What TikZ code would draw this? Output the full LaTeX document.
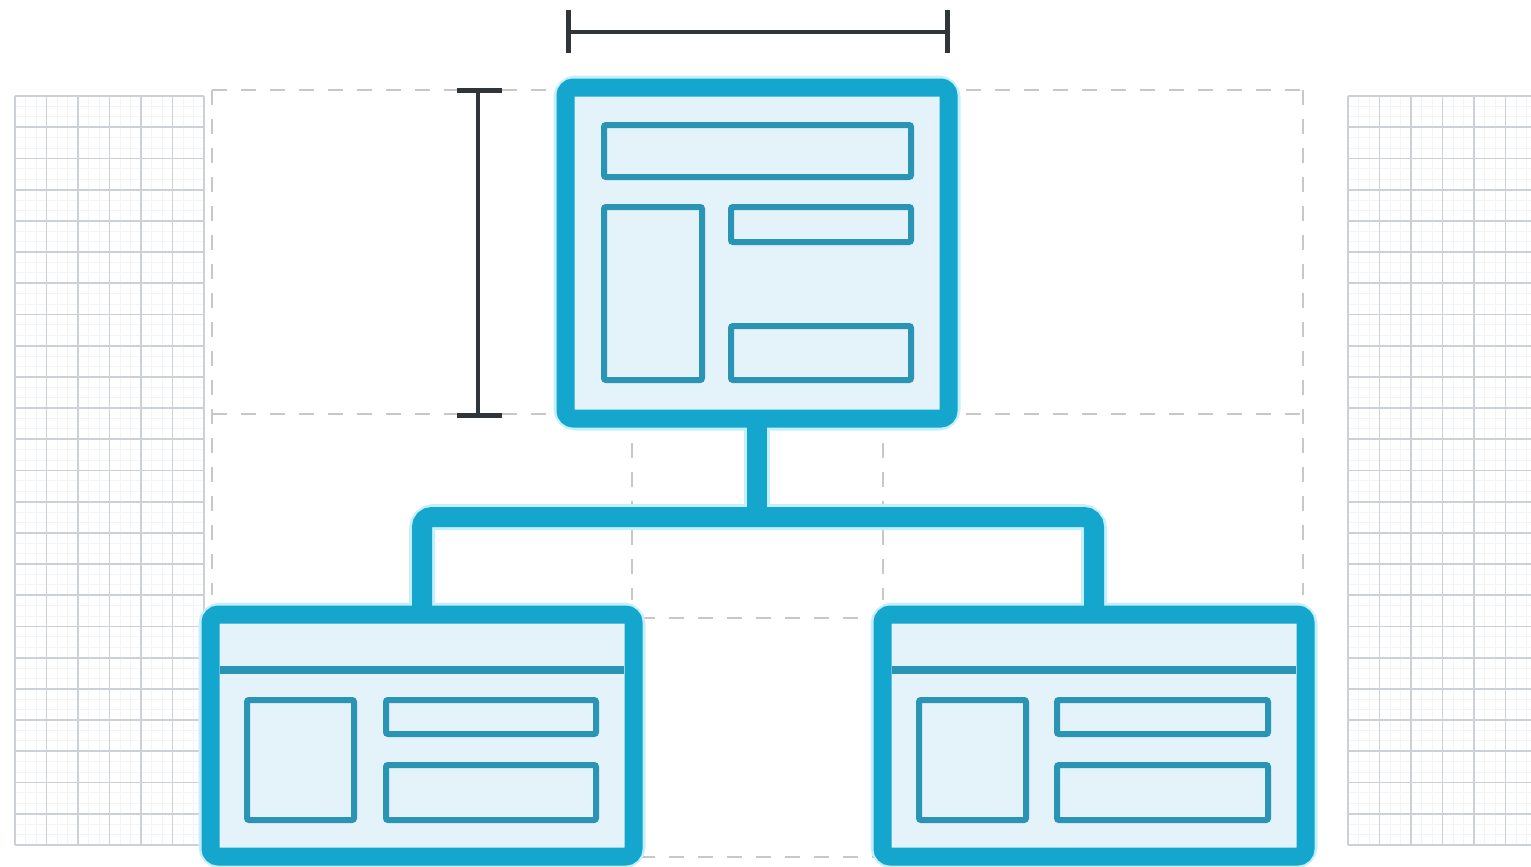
\documentclass[tikz,border=0pt]{standalone}
\definecolor{mainc}{RGB}{20,166,205}
\definecolor{innerc}{RGB}{42,148,180}
\definecolor{panelc}{RGB}{228,242,250}
\definecolor{haloc}{RGB}{196,240,251}
\definecolor{gridmaj}{RGB}{204,208,215}
\definecolor{gridmin}{RGB}{243,244,247}
\definecolor{dashc}{RGB}{200,200,200}
\definecolor{dimc}{RGB}{48,53,58}
\pgfdeclarelayer{back}
\pgfdeclarelayer{bg}
\pgfsetlayers{back,bg,main}
\begin{document}
\begin{tikzpicture}[x=0.5pt,y=-0.5pt,
  card/.style={draw=mainc, fill=panelc, line width=9pt, rounded corners=4pt,
    rectangle, inner sep=0pt, outer sep=0pt},
  halo/.style={draw=haloc, line width=12pt, rounded corners=5pt},
  conn/.style={draw=mainc, line width=10pt, rounded corners=5pt},
  connhalo/.style={draw=haloc, line width=13pt, rounded corners=6pt},
  innerbox/.style={draw=innerc, fill=panelc, line width=3pt, rounded corners=1pt},
  header/.style={draw=innerc, line width=4pt},
  gmaj/.style={draw=gridmaj, line width=0.9pt},
  gmin/.style={draw=gridmin, line width=0.5pt},
  guide/.style={draw=dashc, line width=0.9pt, dash pattern=on 7.5pt off 7pt},
  dimline/.style={draw=dimc, line width=2pt},
  dimtick/.style={draw=dimc, line width=2.5pt}]
\useasboundingbox (0,0) rectangle (1531,867);

% ---------- boxes ----------
\node[card, minimum width=191.5pt, minimum height=165.5pt] (top) at (757,253) {};
\node[card, minimum width=211.5pt, minimum height=121pt] (lbox) at (422,735.5) {};
\node[card, minimum width=211.5pt, minimum height=121pt] (rbox) at (1094,735.5) {};

% inner pieces of the top box
\draw[innerbox] (604,125) rectangle (911,177);
\draw[innerbox] (604,207) rectangle (702,380);
\draw[innerbox] (731,207) rectangle (911,242);
\draw[innerbox] (731,326) rectangle (911,380);

% inner pieces of the left box
\draw[header] (220,670) -- (624,670);
\draw[innerbox] (247,700) rectangle (354,820);
\draw[innerbox] (386,700) rectangle (596,734);
\draw[innerbox] (386,765) rectangle (596,820);

% inner pieces of the right box
\draw[header] (892,670) -- (1296,670);
\draw[innerbox] (919,700) rectangle (1026,820);
\draw[innerbox] (1057,700) rectangle (1268,734);
\draw[innerbox] (1057,765) rectangle (1268,820);

\coordinate (bar) at (757,517);

% ---------- halos and connectors ----------
\begin{pgfonlayer}{bg}
  \draw[halo] (top.north west) rectangle (top.south east);
  \draw[halo] (lbox.north west) rectangle (lbox.south east);
  \draw[halo] (rbox.north west) rectangle (rbox.south east);
  \draw[connhalo] (top.south) -- (top.south |- bar);
  \draw[connhalo] (lbox.north) |- (bar) -| (rbox.north);
  \draw[conn] (top.south) -- (top.south |- bar);
  \draw[conn] (lbox.north) |- (bar) -| (rbox.north);
\end{pgfonlayer}

% ---------- grids, guides, dimensions ----------
\begin{pgfonlayer}{back}
  \fill[white] (0,0) rectangle (1531,867);
  % left grid
  \foreach \i in {0,...,18} \draw[gmin] (15+\i*10.5,96) -- (15+\i*10.5,845);
  \foreach \j in {0,...,72} \draw[gmin] (15,96+\j*10.4) -- (204,96+\j*10.4);
  \foreach \i in {0,...,6} \draw[gmaj] (15+\i*31.5,96) -- (15+\i*31.5,845);
  \foreach \j in {0,...,24} \draw[gmaj] (15,96+\j*31.2) -- (204,96+\j*31.2);
  % right grid
  \foreach \i in {0,...,18} \draw[gmin] (1348+\i*10.5,96) -- (1348+\i*10.5,845);
  \foreach \j in {0,...,72} \draw[gmin] (1348,96+\j*10.4) -- (1531,96+\j*10.4);
  \foreach \i in {0,...,5} \draw[gmaj] (1348+\i*31.5,96) -- (1348+\i*31.5,845);
  \foreach \j in {0,...,24} \draw[gmaj] (1348,96+\j*31.2) -- (1531,96+\j*31.2);
  % dashed guides
  \draw[guide] (212,90) -- (1303,90);
  \draw[guide] (212,414) -- (1303,414);
  \draw[guide] (212,90) -- (212,595);
  \draw[guide] (1303,90) -- (1303,595);
  \draw[guide] (632,414) -- (632,600);
  \draw[guide] (883,414) -- (883,600);
  \draw[guide] (640,618) -- (876,618);
  \draw[guide] (640,857) -- (876,857);
\end{pgfonlayer}

% dimension bars
\draw[dimline] (568,32) -- (947,32);
\draw[dimtick] (568,10) -- (568,53);
\draw[dimtick] (947,10) -- (947,53);
\draw[dimline] (478,90) -- (478,415);
\draw[dimtick] (457,90) -- (502,90);
\draw[dimtick] (457,415) -- (502,415);
\end{tikzpicture}
\end{document}
